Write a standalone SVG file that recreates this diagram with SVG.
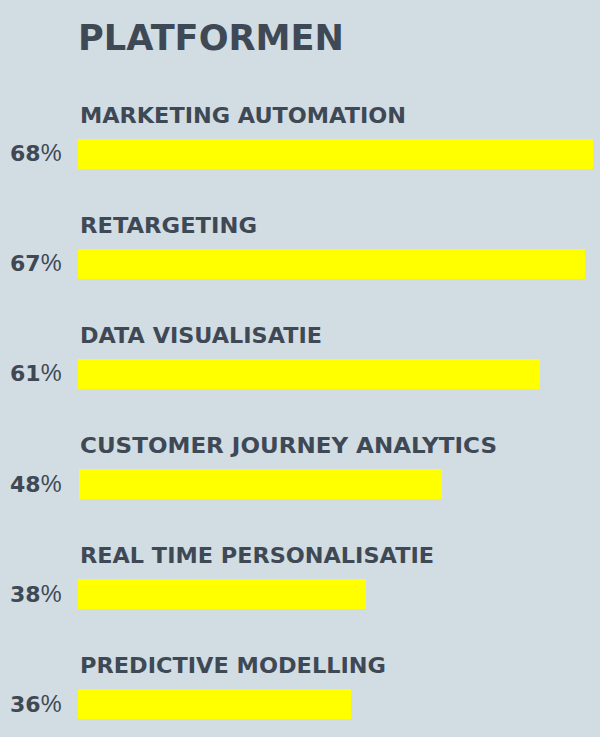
<svg xmlns="http://www.w3.org/2000/svg" width="600" height="737" viewBox="0 0 600 737">
<style>
.t{font-family:"DejaVu Sans","Liberation Sans",Arial,sans-serif;fill:#3e4955;font-weight:bold}
.lbl{font-size:21.5px}
.pct{font-size:22px}
.pc{font-weight:normal;font-family:"Liberation Sans",Arial,sans-serif;font-size:23.5px}
.bar{fill:#ffff00}
</style>
<rect width="600" height="737" fill="#d2dce3"/>
<text class="t" x="78" y="50" font-size="35" textLength="266" lengthAdjust="spacingAndGlyphs">PLATFORMEN</text>
<g id="row1">
<text class="t lbl" x="80" y="123" textLength="326" lengthAdjust="spacingAndGlyphs">MARKETING AUTOMATION</text>
<text class="t pct" x="10" y="161">68<tspan class="pc">%</tspan></text>
<rect class="bar" x="78" y="139" width="515" height="30"/>
</g>
<g id="row2">
<text class="t lbl" x="80" y="233" textLength="177" lengthAdjust="spacingAndGlyphs">RETARGETING</text>
<text class="t pct" x="10" y="271">67<tspan class="pc">%</tspan></text>
<rect class="bar" x="78" y="249" width="507" height="30"/>
</g>
<g id="row3">
<text class="t lbl" x="80" y="343" textLength="242" lengthAdjust="spacingAndGlyphs">DATA VISUALISATIE</text>
<text class="t pct" x="10" y="381">61<tspan class="pc">%</tspan></text>
<rect class="bar" x="78" y="359" width="462" height="30"/>
</g>
<g id="row4">
<text class="t lbl" x="80" y="453" textLength="417" lengthAdjust="spacingAndGlyphs">CUSTOMER JOURNEY ANALYTICS</text>
<text class="t pct" x="10" y="492">48<tspan class="pc">%</tspan></text>
<rect class="bar" x="79" y="469" width="363" height="30"/>
</g>
<g id="row5">
<text class="t lbl" x="80" y="563" textLength="354" lengthAdjust="spacingAndGlyphs">REAL TIME PERSONALISATIE</text>
<text class="t pct" x="10" y="602">38<tspan class="pc">%</tspan></text>
<rect class="bar" x="78" y="579" width="288" height="30"/>
</g>
<g id="row6">
<text class="t lbl" x="80" y="673" textLength="306" lengthAdjust="spacingAndGlyphs">PREDICTIVE MODELLING</text>
<text class="t pct" x="10" y="712">36<tspan class="pc">%</tspan></text>
<rect class="bar" x="78" y="689" width="273" height="30"/>
</g>
</svg>
